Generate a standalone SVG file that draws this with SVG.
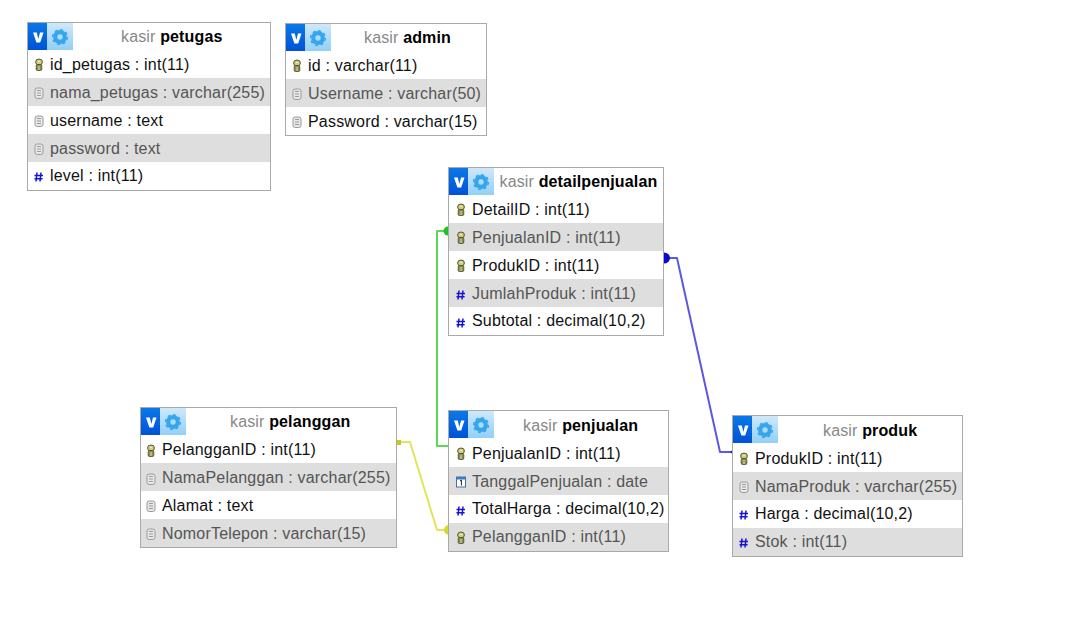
<svg xmlns="http://www.w3.org/2000/svg" width="1067" height="623" viewBox="0 0 1067 623">
<style>
text{font-family:"Liberation Sans",Arial,sans-serif;font-size:16px;letter-spacing:.19px;fill:#111}
.box{fill:#fff;stroke:#a9a9a9;stroke-width:1}
.alt{fill:#dedede}
.g{fill:#555}
.t{fill:#888;letter-spacing:.15px}
.t tspan{fill:#000;font-weight:bold}
.c{fill:none;stroke-width:2;stroke-linejoin:round}
</style>
<defs>
<linearGradient id="vb" x1="0" y1="0" x2="0" y2="1"><stop offset="0" stop-color="#0a78e8"/><stop offset="1" stop-color="#0052d6"/></linearGradient>
<linearGradient id="gb" x1="0" y1="0" x2="0" y2="1"><stop offset="0" stop-color="#cfe8fa"/><stop offset="1" stop-color="#93cff6"/></linearGradient>
<g id="hdr">
<rect x="0" y="0" width="19" height="27" fill="url(#vb)"/>
<rect x="19" y="0" width="26" height="27" fill="url(#gb)"/>
<path d="M5 9.500h3.800l1.500 6.500 1.700-6.500h3.500l-3.300 10h-3.800z" fill="#fff"/>
<circle cx="32" cy="14" r="4.800" fill="none" stroke="#35a5ee" stroke-width="4.200"/>
<circle cx="32" cy="14" r="7.400" fill="none" stroke="#35a5ee" stroke-width="1.400" stroke-dasharray="3 2.800"/>
</g>
<g id="key">
<ellipse cx="0" cy="-3" rx="3.400" ry="3" fill="#d0cd84" stroke="#55552a" stroke-width="1"/>
<rect x="-2.800" y="-0.500" width="5.600" height="6" rx="1.300" fill="#8f8d4e" stroke="#4a4a26" stroke-width="0.800"/>
<path d="M-1-3.500h2M-1 2h2M-1 4h2" stroke="#eee" stroke-width="0.800"/>
</g>
<g id="txt">
<rect x="-4" y="-5" width="8" height="10.500" rx="2.200" fill="#e8e8e8" stroke="#9a9a9a" stroke-width="1"/>
<path d="M-2-2.500h4M-2 0h4M-2 2.500h4" stroke="#9a9a9a" stroke-width="1"/>
</g>
<path id="num" d="M-2-4.500-3 4.500M2-4.500 1 4.500M-4.500-1.500H4M-4.500 1.800H3.600" fill="none" stroke="#1414d2" stroke-width="1.500"/>
<g id="cal">
<rect x="-4.500" y="-5" width="9" height="10" fill="#fff" stroke="#4a6f96" stroke-width="1"/>
<rect x="-4.500" y="-5" width="9" height="2.500" fill="#3d7cc4"/>
<path d="M-1-1 0.400-2V3.500" stroke="#222" stroke-width="1" fill="none"/>
</g>
</defs>
<rect width="1067" height="623" fill="#fff"/>

<g id="connectors">
<path class="c" stroke="#55dc55" d="M448 231H437V446H449"/>
<path d="M448 226.500A4.500 4.500 0 0 0 448 235.500Z" fill="#20c020"/>
<path class="c" stroke="#5a5ae0" d="M664 258H677L720 452H733"/>
<path d="M664 252.500A6 5.500 0 0 1 664 263.500Z" fill="#0c0cc8"/>
<path d="M733 449.500V454.500L730 452Z" fill="#2222c8"/>
<path class="c" stroke="#e4e45c" d="M397 442H410L437 530H449"/>
<rect x="397" y="440" width="4" height="5" fill="#c8c820"/>
<path d="M449 525A5 5 0 0 0 449 535Z" fill="#d8d828"/>
</g>

<g id="petugas">
<rect class="box" x="27.500" y="22.500" width="243" height="168"/>
<rect class="alt" x="28" y="78" width="242" height="28"/><rect class="alt" x="28" y="134" width="242" height="28"/>
<use href="#hdr" x="28" y="23"/>
<text class="t" x="121" y="42">kasir <tspan>petugas</tspan></text>
<use href="#key" x="39" y="65"/><text x="50" y="70">id_petugas : int(11)</text>
<use href="#txt" x="39" y="93"/><text class="g" x="50" y="98">nama_petugas : varchar(255)</text>
<use href="#txt" x="39" y="121"/><text x="50" y="126">username : text</text>
<use href="#txt" x="39" y="149"/><text class="g" x="50" y="154">password : text</text>
<use href="#num" x="39" y="177"/><text x="50" y="181">level : int(11)</text>
</g>

<g id="admin">
<rect class="box" x="285.500" y="23.500" width="201" height="112"/>
<rect class="alt" x="286" y="79" width="200" height="28"/>
<use href="#hdr" x="286" y="24"/>
<text class="t" x="364" y="43">kasir <tspan>admin</tspan></text>
<use href="#key" x="297" y="66"/><text x="308" y="71">id : varchar(11)</text>
<use href="#txt" x="297" y="94"/><text class="g" x="308" y="99">Username : varchar(50)</text>
<use href="#txt" x="297" y="122"/><text x="308" y="127">Password : varchar(15)</text>
</g>

<g id="detailpenjualan">
<rect class="box" x="448.500" y="167.500" width="215" height="168"/>
<rect class="alt" x="449" y="223" width="214" height="28"/><rect class="alt" x="449" y="279" width="214" height="28"/>
<use href="#hdr" x="449" y="168"/>
<text class="t" x="499.500" y="187">kasir <tspan>detailpenjualan</tspan></text>
<use href="#key" x="461" y="210"/><text x="472" y="215">DetailID : int(11)</text>
<use href="#key" x="461" y="238"/><text class="g" x="472" y="243">PenjualanID : int(11)</text>
<use href="#key" x="461" y="266"/><text x="472" y="271">ProdukID : int(11)</text>
<use href="#num" x="461" y="295"/><text class="g" x="472" y="299">JumlahProduk : int(11)</text>
<use href="#num" x="461" y="323"/><text x="472" y="326">Subtotal : decimal(10,2)</text>
</g>

<g id="penjualan">
<rect class="box" x="448.500" y="410.500" width="220" height="141"/>
<rect class="alt" x="449" y="467" width="219" height="28"/><rect class="alt" x="449" y="523" width="219" height="28"/>
<use href="#hdr" x="449" y="411"/>
<text class="t" x="523" y="431">kasir <tspan>penjualan</tspan></text>
<use href="#key" x="461" y="454"/><text x="472" y="459">PenjualanID : int(11)</text>
<use href="#cal" x="461" y="482"/><text class="g" x="472" y="487">TanggalPenjualan : date</text>
<use href="#num" x="461" y="511"/><text x="472" y="514">TotalHarga : decimal(10,2)</text>
<use href="#key" x="461" y="538"/><text class="g" x="472" y="542">PelangganID : int(11)</text>
</g>

<g id="pelanggan">
<rect class="box" x="140.500" y="407.500" width="256" height="140"/>
<rect class="alt" x="141" y="463" width="255" height="28"/><rect class="alt" x="141" y="519" width="255" height="28"/>
<use href="#hdr" x="141" y="408"/>
<text class="t" x="230" y="427">kasir <tspan>pelanggan</tspan></text>
<use href="#key" x="151" y="451"/><text x="162" y="455">PelangganID : int(11)</text>
<use href="#txt" x="151" y="479"/><text class="g" x="162" y="483">NamaPelanggan : varchar(255)</text>
<use href="#txt" x="151" y="506"/><text x="162" y="511">Alamat : text</text>
<use href="#txt" x="151" y="534"/><text class="g" x="162" y="539">NomorTelepon : varchar(15)</text>
</g>

<g id="produk">
<rect class="box" x="732.500" y="415.500" width="230" height="141"/>
<rect class="alt" x="733" y="472" width="229" height="28"/><rect class="alt" x="733" y="528" width="229" height="28"/>
<use href="#hdr" x="733" y="416"/>
<text class="t" x="823" y="436">kasir <tspan>produk</tspan></text>
<use href="#key" x="744" y="459"/><text x="755" y="464">ProdukID : int(11)</text>
<use href="#txt" x="744" y="487"/><text class="g" x="755" y="492">NamaProduk : varchar(255)</text>
<use href="#num" x="744" y="515"/><text x="755" y="519">Harga : decimal(10,2)</text>
<use href="#num" x="744" y="543"/><text class="g" x="755" y="547">Stok : int(11)</text>
</g>
</svg>
